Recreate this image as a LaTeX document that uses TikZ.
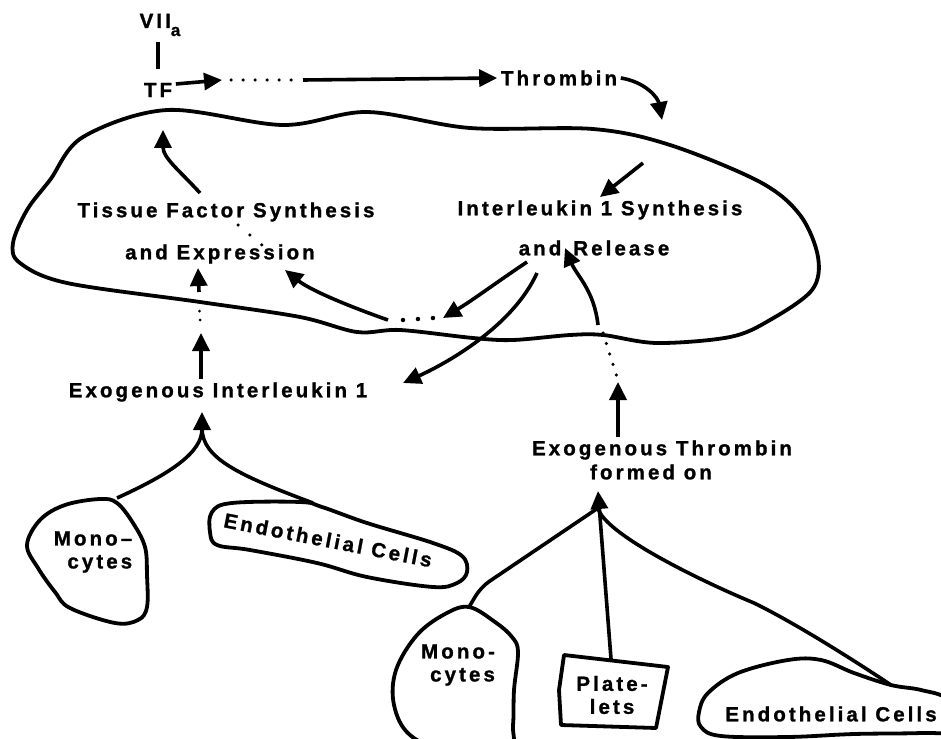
\documentclass[tikz,border=0pt]{standalone}
\usepackage{fontspec}
\setmainfont{Liberation Sans}[LetterSpace=15,BoldFeatures={FakeBold=1.2}]
\usetikzlibrary{arrows.meta}

\begin{document}
\begin{tikzpicture}[->,>={Triangle[length=18pt,width=17pt]},x=1pt,y=-1pt,
  line width=3.6pt,
  txt/.style={font=\bfseries\fontsize{20.5}{23}\selectfont,inner sep=2pt,align=center},
  membrane/.style={-,line width=3.8pt,line join=round},
  dotline/.style={-,line width=3.5pt,line cap=round,dash pattern=on 0pt off 12pt}]

  \clip (0,0) rectangle (941,738);

  % cell outline
  \draw[membrane] plot[smooth cycle,tension=0.55] coordinates {(83,137) (167,110)
    (283,125) (367,112) (470,128) (593,129) (670,145) (760,182) (800,215)
    (818,257) (812,290) (770,320) (730,337) (657,343) (603,335) (570,335)
    (513,340) (473,338) (400,330) (357,332) (300,317) (200,302) (67,283)
    (20,263) (13,243) (27,210) (50,180)};

  % cells outside
  \draw[membrane] plot[smooth cycle,tension=0.6] coordinates {(27,545) (40,520)
    (65,505) (100,499) (117,503) (133,523) (145,547) (147,575) (147,607)
    (138,620) (115,623) (70,608) (55,592) (38,568)};
  \draw[membrane] plot[smooth cycle,tension=0.6] coordinates {(212,512) (232,503)
    (300,502) (322,507) (367,523) (433,543) (462,556) (467,572) (457,583)
    (433,587) (367,577) (317,563) (250,550) (217,545) (210,532)};
  \draw[membrane] plot[smooth cycle,tension=0.6] coordinates {(469,607) (495,622)
    (512,637) (518,652) (514,690) (513,725) (508,750) (450,752) (410,735)
    (394,705) (396,670) (417,635) (445,614)};
  \draw[membrane] (564,655) -- (668,667) -- (656,728) -- (561,725) -- (559,690) -- cycle;
  \draw[membrane] plot[smooth cycle,tension=0.6] coordinates {(701,727) (699,712)
    (708,693) (738,673) (788,660) (821,660) (854,673) (891,685) (921,690)
    (948,700) (955,730) (921,733) (854,734) (788,737) (721,736)};

  % labels
  \node[txt] (vii) at (160,25) {VII\raisebox{-8pt}{\fontsize{17}{17}\selectfont a}};
  \node[txt] (tf) at (158,90) {TF};
  \node[txt] (thrombin) at (559,78) {Thrombin};
  \node[txt] (tfs) at (226,212) {Tissue Factor Synthesis};
  \node[txt] (tfe) at (220,254) {and Expression};
  \node[txt] (ils) at (600,210) {Interleukin 1 Synthesis};
  \node[txt] (ilr) at (594,248) {and\hspace{12pt}Release};
  \node[txt] (exil) at (218,392) {Exogenous Interleukin 1};
  \node[txt] (exthr) at (662,450) {Exogenous Thrombin};
  \node[txt] (formed) at (651,472) {formed on};
  \node[txt,align=right] (monoL) at (93,552) {Mono--\\cytes};
  \node[txt,rotate=-11] (endoL) at (328,540) {Endothelial Cells};
  \node[txt,align=right] (monoR) at (458,665) {Mono-\\cytes};
  \node[txt] (plate) at (612,695) {Plate-\\lets};
  \node[txt] (endoR) at (831,714) {Endothelial Cells};

  \coordinate (tfhead) at (222,80);
  \coordinate (dotA) at (231,80);
  \coordinate (dotB) at (291,80);
  \coordinate (lineA) at (303,80);
  \coordinate (thrcell) at (662,120);
  \coordinate (ilin) at (643,163);
  \coordinate (iltip) at (600,197);
  \coordinate (tfsout) at (200,193);
  \coordinate (tfin) at (163,130);
  \coordinate (tfdA) at (238,225);
  \coordinate (tfdB) at (262,245);
  \coordinate (leakL) at (388,320);
  \coordinate (exprin) at (285,270);
  \coordinate (leakA) at (403,320);
  \coordinate (leakB) at (433,318);
  \coordinate (ilout1) at (527,262);
  \coordinate (leakin) at (443,318);
  \coordinate (ilout2) at (537,273);
  \coordinate (exilin) at (403,383);
  \coordinate (ilrbase) at (598,325);
  \coordinate (ilrin) at (565,248);
  \coordinate (thrdA) at (603,333);
  \coordinate (thrdB) at (617,377);
  \coordinate (thrup) at (618,382);
  \coordinate (ilup) at (201,333);
  \coordinate (ildA) at (200,320);
  \coordinate (ildB) at (199,302);
  \coordinate (exprbase) at (199,292);
  \coordinate (exprup) at (198,268);
  \coordinate (monoLtop) at (117,498);
  \coordinate (endoLtop) at (313,503);
  \coordinate (exiltip) at (202,412);
  \coordinate (exilbase) at (202,428);
  \coordinate (exthrtip) at (598,491);
  \coordinate (exthrbase) at (598,508);
  \coordinate (monoRtop) at (469,607);
  \coordinate (platetop) at (611,659);
  \coordinate (endoRmid) at (754,603);
  \coordinate (endoRtop) at (891,685);

  % coagulation
  \draw[-,shorten <=2pt,shorten >=10pt] (vii.south -| tf) -- (tf.north);
  \draw ([yshift=6pt]tf.east) -- (tfhead);
  \draw[dotline] (dotA) -- (dotB);
  \draw (lineA) -- (thrombin.west);
  \draw (thrombin.east) .. controls +(25,4) and +(-4,-22) .. (thrcell);
  \draw (ilin) -- (iltip);

  % inside the cell
  \draw (tfsout) .. controls +(-20,-22) and +(0,28) .. (tfin);
  \draw[dotline,dash pattern=on 0pt off 15.5pt] (tfdA) -- (tfdB);
  \draw (leakL) .. controls +(-40,-14) and +(25,20) .. (exprin);
  \draw[dotline,line width=4.5pt,dash pattern=on 0pt off 15pt] (leakA) -- (leakB);
  \draw (ilout1) .. controls +(-30,20) and +(30,-18) .. (leakin);
  \draw (ilout2) .. controls +(-25,55) and +(40,-18) .. (exilin);
  \draw (ilrbase) .. controls +(-4,-35) and +(12,28) .. (ilrin);

  % exogenous sources
  \draw[dotline,dash pattern=on 0pt off 11pt] (thrdA) -- (thrdB);
  \draw (thrup |- exthr.north) -- (thrup);
  \draw (ilup |- exil.north) -- (ilup);
  \draw[dotline,dash pattern=on 0pt off 9pt,line width=3pt] (ildA) -- (ildB);
  \draw (exprbase) -- (exprup);
  \draw (monoLtop) .. controls +(55,-25) and +(0,40) .. (exiltip);
  \draw[-] (endoLtop) .. controls +(-75,-28) and +(0,30) .. (exilbase);
  \draw (platetop) -- (exthrtip);
  \draw[-,rounded corners=10pt] (monoRtop) -- ++(12,-20) -- (exthrbase);
  \draw[-] (exthrbase) .. controls +(6,25) and +(-60,-25) .. (endoRmid)
    .. controls +(45,22) and +(-30,-20) .. (endoRtop);
\end{tikzpicture}
\end{document}
